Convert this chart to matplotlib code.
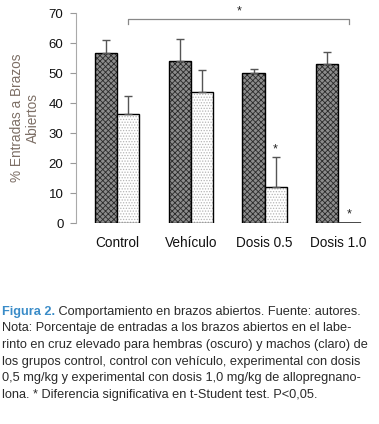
import matplotlib
matplotlib.use("Agg")
import matplotlib.pyplot as plt
import numpy as np

groups = ["Control", "Vehículo", "Dosis 0.5", "Dosis 1.0"]
hembras = [56.8, 54.2, 50.1, 52.9]
hembras_err = [4.1, 7.2, 1.3, 4.0]
machos = [36.3, 43.8, 12.0, 0.0]
machos_err = [6.2, 7.1, 10.1, 0.0]
yticks = [0, 10, 20, 30, 40, 50, 60, 70]

caption_lines = [
    "Nota: Porcentaje de entradas a los brazos abiertos en el labe-",
    "rinto en cruz elevado para hembras (oscuro) y machos (claro) de",
    "los grupos control, control con vehículo, experimental con dosis",
    "0,5 mg/kg y experimental con dosis 1,0 mg/kg de allopregnano-",
    "lona. * Diferencia significativa en t-Student test. P<0,05.",
]

plt.rcParams['font.family'] = ['Liberation Sans', 'DejaVu Sans']
plt.rcParams['hatch.linewidth'] = 0.6

fig = plt.figure(figsize=(3.79, 4.24), dpi=100)
ax = fig.add_axes([0.2005, 0.474, 0.776, 0.495])

x = np.arange(len(groups))
w = 0.3
xd = x - w / 2
xl = x + w / 2

ax.bar(xd, hembras, w, color='#8c8c8c', edgecolor='#2a2a2a', hatch='xxxxxx', linewidth=0)
ax.bar(xd, hembras, w, fill=False, edgecolor='black', linewidth=1.0)
ax.bar(xl, machos, w, color='white', edgecolor='#b5b5b5', hatch='......', linewidth=0)
ax.bar(xl, machos, w, fill=False, edgecolor='black', linewidth=1.0)
# zero-height bars shown as a line
mach = np.array(machos)
zero = mach == 0
ax.hlines(mach[zero], xl[zero] - w / 2, xl[zero] + w / 2, colors='#333333', lw=1.2)

ax.errorbar(xd, hembras, yerr=[np.zeros(4), hembras_err], fmt='none', ecolor='#555555',
            elinewidth=1.0, capsize=3, capthick=1.0)
me = np.array(machos_err)
mask = me > 0
ax.errorbar(xl[mask], mach[mask], yerr=[np.zeros(mask.sum()), me[mask]], fmt='none',
            ecolor='#555555', elinewidth=1.0, capsize=3, capthick=1.0)

# significance marks
ax.text(xl[2], machos[2] + machos_err[2] + 0.6, "*", ha='center', va='bottom', fontsize=9, color='#222')
ax.text(xl[3], 0.8, "*", ha='center', va='bottom', fontsize=9, color='#222')
ax.plot([xl[0], xl[0], xl[3], xl[3]], [66.4, 68.0, 68.0, 66.4], color='#888888', lw=0.9, clip_on=False)
ax.text((xl[0] + xl[3]) / 2, 68.6, "*", ha='center', va='bottom', fontsize=9, color='#222', clip_on=False)

ax.set_xlim(-0.556, 3.43)
ax.set_ylim(0, 70)
ax.set_yticks(yticks)
ax.set_xticks(x)
ax.set_xticklabels(groups, fontsize=9.8, color='#111')
ax.tick_params(axis='x', length=0, pad=9)
ax.tick_params(axis='y', length=4, width=0.8, color='#999999', labelsize=9.5, labelcolor='#111', pad=5)
for s in ['top', 'right', 'bottom']:
    ax.spines[s].set_visible(False)
ax.spines['left'].set_color('#aaaaaa')
ax.spines['left'].set_linewidth(0.8)

fig.text(25 / 379, 1 - 118 / 424, "% Entradas a Brazos\nAbiertos", rotation=90, ha='center', va='center',
         fontsize=9.8, color='#7d6f66', linespacing=1.25)

cap_font = ['Liberation Sans Narrow', 'Liberation Sans', 'DejaVu Sans']
cap_size = 9.2
y0 = 311.7
dy = 16.7
t1 = fig.text(2 / 379, 1 - y0 / 424, "Figura 2.", family=cap_font, fontsize=cap_size, color='#3a8cc8',
              fontweight='bold', va='center', ha='left')
ax.annotate(" Comportamiento en brazos abiertos. Fuente: autores.", xy=(1, 0.5), xycoords=t1,
            va='center', ha='left', family=cap_font, fontsize=cap_size, color='#2a2a2a', annotation_clip=False)
for i, line in enumerate(caption_lines):
    fig.text(2 / 379, 1 - (y0 + dy * (i + 1)) / 424, line, family=cap_font, fontsize=cap_size,
             color='#2a2a2a', va='center', ha='left')

fig.savefig("out.png", dpi=100)
